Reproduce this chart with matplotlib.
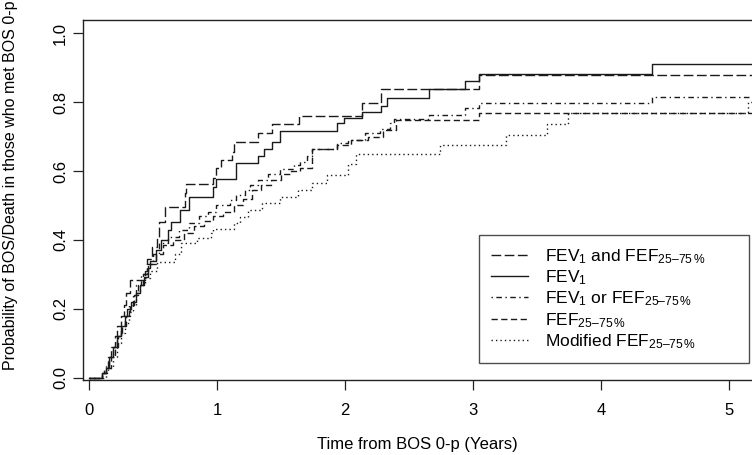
import matplotlib
matplotlib.use("Agg")
import matplotlib.pyplot as plt

plt.rcParams['font.family'] = ['Liberation Sans', 'DejaVu Sans']
plt.rcParams['mathtext.fontset'] = 'custom'
plt.rcParams['mathtext.rm'] = 'Liberation Sans'
plt.rcParams['mathtext.it'] = 'Liberation Sans:italic'
plt.rcParams['mathtext.default'] = 'regular'

# ---- data (time in years, cumulative probability) ----
and_t = [0.10, 0.12, 0.15, 0.17, 0.20, 0.22, 0.25, 0.27, 0.29, 0.32, 0.44, 0.45, 0.49, 0.53,
         0.55, 0.59, 0.75, 0.76, 0.97, 0.99, 1.03, 1.12, 1.13, 1.32, 1.43, 1.64, 2.13, 2.28, 3.05]
and_p = [0.014, 0.03, 0.06, 0.09, 0.12, 0.15, 0.18, 0.21, 0.245, 0.285, 0.31, 0.346, 0.38, 0.405,
         0.453, 0.495, 0.535, 0.562, 0.58, 0.608, 0.632, 0.655, 0.685, 0.71, 0.736, 0.759, 0.797, 0.838, 0.878]

fev_t = [0.10, 0.13, 0.16, 0.19, 0.22, 0.25, 0.28, 0.30, 0.33, 0.37, 0.40, 0.43, 0.46, 0.48, 0.52,
         0.56, 0.62, 0.64, 0.71, 0.78, 0.97, 0.99, 1.15, 1.32, 1.37, 1.43, 1.49, 1.94, 1.99, 2.13,
         2.28, 2.33, 2.66, 2.94, 3.05, 4.40]
fev_p = [0.014, 0.03, 0.06, 0.09, 0.12, 0.15, 0.18, 0.20, 0.22, 0.245, 0.27, 0.293, 0.32, 0.34, 0.37,
         0.40, 0.43, 0.453, 0.487, 0.525, 0.555, 0.576, 0.622, 0.643, 0.665, 0.685, 0.717, 0.738, 0.754, 0.772,
         0.79, 0.812, 0.838, 0.861, 0.88, 0.91]

or_t = [0.10, 0.13, 0.16, 0.19, 0.22, 0.25, 0.28, 0.31, 0.34, 0.37, 0.41, 0.45, 0.50, 0.55, 0.62,
        0.70, 0.78, 0.86, 0.93, 0.99, 1.10, 1.15, 1.22, 1.26, 1.32, 1.40, 1.49, 1.60, 1.65, 1.70,
        1.74, 1.94, 2.02, 2.16, 2.27, 2.35, 2.38, 2.66, 2.94, 3.05, 4.40]
or_p = [0.014, 0.035, 0.06, 0.09, 0.12, 0.15, 0.18, 0.21, 0.24, 0.27, 0.30, 0.33, 0.36, 0.39, 0.41,
        0.43, 0.45, 0.47, 0.48, 0.50, 0.515, 0.53, 0.545, 0.56, 0.575, 0.59, 0.605, 0.617, 0.627, 0.645,
        0.665, 0.68, 0.69, 0.709, 0.723, 0.738, 0.752, 0.763, 0.782, 0.797, 0.815]

fef_t = [0.10, 0.13, 0.17, 0.20, 0.23, 0.26, 0.29, 0.32, 0.35, 0.38, 0.42, 0.46, 0.52, 0.58, 0.66,
         0.74, 0.82, 0.90, 0.97, 1.05, 1.13, 1.20, 1.27, 1.34, 1.42, 1.50, 1.58, 1.65, 1.74, 1.94,
         2.05, 2.18, 2.30, 2.40, 3.05]
fef_p = [0.014, 0.03, 0.06, 0.09, 0.12, 0.15, 0.18, 0.21, 0.24, 0.27, 0.30, 0.33, 0.36, 0.385, 0.40,
         0.42, 0.44, 0.455, 0.47, 0.48, 0.50, 0.52, 0.545, 0.56, 0.575, 0.59, 0.60, 0.61, 0.665, 0.675,
         0.69, 0.70, 0.72, 0.748, 0.767]

mod_t = [0.13, 0.15, 0.19, 0.22, 0.25, 0.28, 0.31, 0.34, 0.37, 0.40, 0.44, 0.48, 0.53, 0.67, 0.72,
         0.84, 0.95, 0.97, 1.13, 1.18, 1.24, 1.35, 1.49, 1.63, 1.74, 1.86, 2.02, 2.09, 2.74, 3.26,
         3.58, 3.74, 5.15]
mod_p = [0.014, 0.03, 0.06, 0.10, 0.13, 0.16, 0.19, 0.21, 0.245, 0.27, 0.29, 0.31, 0.337, 0.36, 0.39,
         0.407, 0.42, 0.433, 0.45, 0.468, 0.487, 0.508, 0.525, 0.544, 0.564, 0.588, 0.62, 0.649, 0.675, 0.704,
         0.735, 0.767, 0.80]

labels = [r'FEV$_1$ and FEF$_{25\mathrm{–}75\,\%}$',
          r'FEV$_1$',
          r'FEV$_1$ or FEF$_{25\mathrm{–}75\,\%}$',
          r'FEF$_{25\mathrm{–}75\,\%}$',
          r'Modified FEF$_{25\mathrm{–}75\,\%}$']
x_ticks = [0, 1, 2, 3, 4, 5]
y_ticks = [0.0, 0.2, 0.4, 0.6, 0.8, 1.0]
t_end = 5.3

series = [(and_t, and_p), (fev_t, fev_p), (or_t, or_p), (fef_t, fef_p), (mod_t, mod_p)]
dash_styles = [(0, (7, 2.5)), '-', (0, (1, 2.5, 4, 2.5)), (0, (4.5, 2.5)), (0, (1, 2.2))]

fig = plt.figure(figsize=(7.52, 4.55), dpi=100)
ax = fig.add_axes([0.110, 0.165, 0.890, 0.791])

for (tt, pp), ls, lab in zip(series, dash_styles, labels):
    xs = [0.0] + tt + [t_end]
    ys = [0.0] + pp + [pp[-1]]
    ax.step(xs, ys, where='post', color='#1a1a1a', lw=1.0, linestyle=ls, label=lab)

ax.set_xlim(-0.049, 5.18)
ax.set_ylim(-0.006, 1.038)
ax.set_xticks(x_ticks)
ax.set_xticklabels([str(v) for v in x_ticks])
ax.set_yticks(y_ticks)
ax.set_yticklabels(['%.1f' % v for v in y_ticks], rotation=90, va='center')
ax.tick_params(axis='both', direction='out', length=7.5, width=0.9, labelsize=12, color='#222222')
ax.tick_params(axis='x', pad=9)
ax.tick_params(axis='y', pad=3)
ax.spines['right'].set_visible(False)
for s in ['left', 'top', 'bottom']:
    ax.spines[s].set_linewidth(1.0)
    ax.spines[s].set_color('#222222')

ax.set_xlabel('Time from BOS 0-p (Years)', fontsize=12, labelpad=14)
ax.set_ylabel('Probability of BOS/Death in those who met BOS 0-p', fontsize=11.5)
ax.yaxis.set_label_coords(-0.097, 0.54)

leg = ax.legend(loc='lower left', bbox_to_anchor=(0.592, 0.047, 0.4035, 0.361), mode='expand',
                fontsize=12.5, frameon=True, fancybox=False, handlelength=2.1, handletextpad=1.0,
                labelspacing=0.15, borderpad=0.7, borderaxespad=0)
leg.get_frame().set_edgecolor('#222222')
leg.get_frame().set_linewidth(1.0)

fig.savefig('out.png', dpi=100)
